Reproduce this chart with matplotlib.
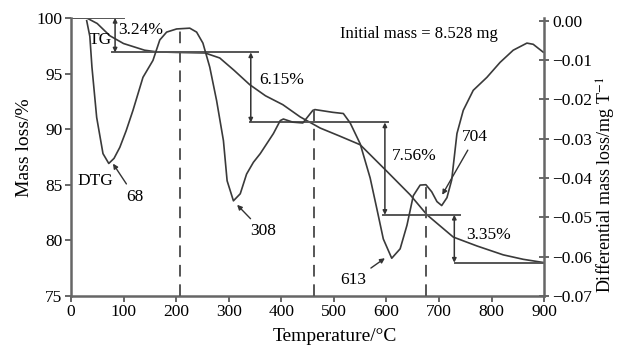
import numpy as np
import matplotlib
matplotlib.use('Agg')
import matplotlib.pyplot as plt

plt.rcParams['font.family'] = ['Liberation Serif', 'DejaVu Serif']
plt.rcParams['mathtext.fontset'] = 'stix'

# TG curve (mass loss %)
tg_temp = [0, 30, 50, 74, 100, 120, 140, 163, 200, 255, 283, 310, 340, 370, 403,
           436, 474, 510, 550, 601, 645, 677, 727, 772, 822, 860, 900]
tg_mass = [100, 100, 99.5, 98.4, 97.7, 97.4, 97.1, 96.95, 96.9, 96.85, 96.4, 95.3,
           94.0, 93.0, 92.2, 91.1, 90.1, 89.4, 88.6, 86.2, 84.1, 82.3, 80.3, 79.5,
           78.7, 78.3, 78.0]

# DTG curve (differential mass loss)
dtg_temp = [30, 36, 40, 49, 61, 72, 82, 93, 105, 118, 137, 156, 169, 182, 201, 226,
            239, 251, 264, 277, 290, 297, 309, 322, 334, 347, 360, 385, 398, 404,
            422, 441, 460, 464, 498, 518, 531, 550, 569, 582, 594, 610, 626, 639,
            651, 664, 675, 686, 696, 705, 715, 724, 734, 746, 765, 791, 816, 841,
            867, 879, 898]
dtg_val = [0.0, -0.004, -0.0118, -0.0246, -0.0338, -0.0363, -0.035, -0.0322, -0.028,
           -0.0228, -0.0144, -0.0101, -0.0049, -0.0029, -0.0021, -0.0019, -0.0029,
           -0.0057, -0.0118, -0.0203, -0.0305, -0.0407, -0.0458, -0.044, -0.039,
           -0.036, -0.0338, -0.0287, -0.0254, -0.025, -0.0258, -0.026, -0.0228,
           -0.0226, -0.0233, -0.0236, -0.026, -0.0313, -0.040, -0.048, -0.0555,
           -0.0604, -0.058, -0.052, -0.0445, -0.0418, -0.0417, -0.0435, -0.046,
           -0.047, -0.045, -0.0405, -0.0287, -0.0228, -0.0177, -0.0144, -0.0106,
           -0.0075, -0.0057, -0.006, -0.008]

# step levels of TG and the extents of the horizontal guide lines
step_levels = [100, 96.9, 90.6, 82.3, 78.0]
step_x0 = [0, 78, 340, 594, 730]
step_x1 = [100, 356, 603, 740, 900]
arrow_x = [84, 342, 597, 729]
step_labels = ['3.24%', '6.15%', '7.56%', '3.35%']
label_pos = [(89, 98.9), (358, 94.4), (611, 87.6), (752, 80.5)]

# dashed lines at DTG peaks
peak_temp = [207, 463, 675]
peak_val = [-0.002, -0.0226, -0.0417]

line_c = '#3a3a3a'
guide_c = '#555555'
spine_c = '#666666'

fig = plt.figure(figsize=(6.22, 3.45), dpi=100)
ax = fig.add_axes([0.114, 0.142, 0.761, 0.806])
ax2 = ax.twinx()

ax.plot(tg_temp, tg_mass, color=line_c, lw=1.2)
ax2.plot(dtg_temp, dtg_val, color=line_c, lw=1.2)

for i in range(len(step_levels)):
    ax.plot([step_x0[i], step_x1[i]], [step_levels[i], step_levels[i]], color=guide_c, lw=1.4)

for i in range(4):
    ax.annotate('', xy=(arrow_x[i], step_levels[i + 1]), xytext=(arrow_x[i], step_levels[i]),
                arrowprops=dict(arrowstyle='<|-|>', color='#333333', lw=1.1,
                                mutation_scale=6, shrinkA=0, shrinkB=0))
    ax.text(label_pos[i][0], label_pos[i][1], step_labels[i], fontsize=12.5, ha='left', va='center')

for t, v in zip(peak_temp, peak_val):
    ax2.plot([t, t], [-0.07, v], color=guide_c, lw=1.4, ls=(0, (6, 4)))

# text labels
ax.text(55, 98.0, 'TG', fontsize=12.5, ha='center', va='center')
ax.text(46, 85.3, 'DTG', fontsize=12.5, ha='center', va='center')
ax.text(662, 98.6, 'Initial mass = 8.528 mg', fontsize=12, ha='center', va='center')

arr = dict(arrowstyle='-|>', color='#333333', lw=1.0, mutation_scale=7, shrinkA=2, shrinkB=0)
ax.annotate('68', xy=(80, 86.9), xytext=(122, 83.9), fontsize=12.5, ha='center', va='center', arrowprops=arr)
ax.annotate('308', xy=(316, 83.2), xytext=(365, 80.8), fontsize=12.5, ha='center', va='center', arrowprops=arr)
ax.annotate('613', xy=(597, 78.4), xytext=(537, 76.4), fontsize=12.5, ha='center', va='center', arrowprops=arr)
ax.annotate('704', xy=(706, 84.1), xytext=(769, 89.3), fontsize=12.5, ha='center', va='center', arrowprops=arr)

ax.set_xlim(0, 900)
ax.set_ylim(75, 100)
ax2.set_ylim(-0.07, 0.0007)
ax.set_xticks(np.arange(0, 901, 100))
ax.set_yticks(np.arange(75, 101, 5))
ax2.set_yticks(np.arange(-0.07, 0.001, 0.01))
ax2.set_yticklabels(['\u22120.07', '\u22120.06', '\u22120.05', '\u22120.04', '\u22120.03',
                     '\u22120.02', '\u22120.01', '0.00'])

for a in (ax, ax2):
    a.spines['top'].set_visible(False)
    for s in a.spines.values():
        s.set_color(spine_c)
        s.set_linewidth(1.8)
ax.spines['right'].set_visible(False)
ax2.spines['left'].set_visible(False)
ax2.spines['bottom'].set_visible(False)

ax.tick_params(axis='both', direction='out', length=4, width=1.4, color=spine_c, labelsize=12.5, pad=2)
ax2.tick_params(axis='y', direction='inout', length=7, width=1.4, color=spine_c, labelsize=12.5, pad=2)

ax.set_xlabel('Temperature/\u00b0C', fontsize=14)
ax.set_ylabel('Mass loss/%', fontsize=14)
ax2.set_ylabel('Differential mass loss/mg T$^{-1}$', fontsize=13)
ax.xaxis.set_label_coords(0.558, -0.115)
ax.yaxis.set_label_coords(-0.08, 0.532)
ax2.yaxis.set_label_coords(1.106, 0.40)

fig.savefig('out.png', dpi=100)
